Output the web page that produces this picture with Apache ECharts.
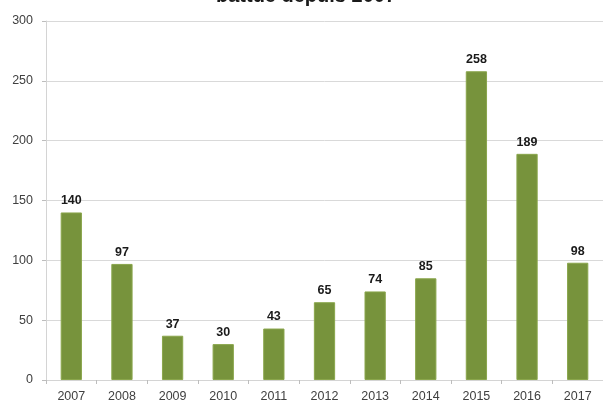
<!DOCTYPE html>
<html>
<head>
<meta charset="utf-8">
<script src="https://cdn.jsdelivr.net/npm/echarts@6/dist/echarts.min.js"></script>
<style>
  html, body { margin: 0; padding: 0; background: #fff; }
  #chart { width: 603px; height: 403px; }
</style>
</head>
<body>
<div id="chart"></div>
<script>
// Yearly counts, 2007–2017
const years = ['2007', '2008', '2009', '2010', '2011', '2012', '2013', '2014', '2015', '2016', '2017'];
const counts = [140, 97, 37, 30, 43, 65, 74, 85, 258, 189, 98];
const titleText = 'battue depuis 2007';

const chart = echarts.init(document.getElementById('chart'), null, { renderer: 'canvas' });

const labelFont = '"Liberation Sans", Arial, sans-serif';

chart.setOption({
  animation: false,
  backgroundColor: '#ffffff',
  graphic: [{
    type: 'text',
    x: 306,
    y: -14,
    style: {
      text: titleText,
      font: 'bold 20px "Liberation Sans", Arial, sans-serif',
      fill: '#1a1a1a',
      align: 'center',
      verticalAlign: 'top'
    }
  }],
  grid: { left: 46, right: 0, top: 21, bottom: 23, containLabel: false },
  xAxis: {
    type: 'category',
    data: years,
    axisLine: { lineStyle: { color: '#d4d4d4', width: 1 } },
    axisTick: { show: true, length: 4, lineStyle: { color: '#bdbdbd' } },
    axisLabel: { color: '#404040', fontSize: 12.5, margin: 10, fontFamily: labelFont }
  },
  yAxis: {
    type: 'value',
    min: 0,
    max: 300,
    interval: 50,
    axisLine: { show: true, lineStyle: { color: '#d4d4d4', width: 1 } },
    axisTick: { show: true, length: 4, lineStyle: { color: '#bdbdbd' } },
    axisLabel: { color: '#404040', fontSize: 12.5, margin: 13, fontFamily: labelFont },
    splitLine: { lineStyle: { color: '#d9d9d9', width: 1 } }
  },
  series: [{
    type: 'bar',
    data: counts,
    barWidth: '42%',
    itemStyle: { color: '#77933c', borderColor: '#8aa64c', borderWidth: 1 },
    label: {
      show: true,
      position: 'top',
      distance: 5,
      color: '#1a1a1a',
      fontWeight: 'bold',
      fontSize: 12.5,
      fontFamily: labelFont
    }
  }]
});
</script>
</body>
</html>
